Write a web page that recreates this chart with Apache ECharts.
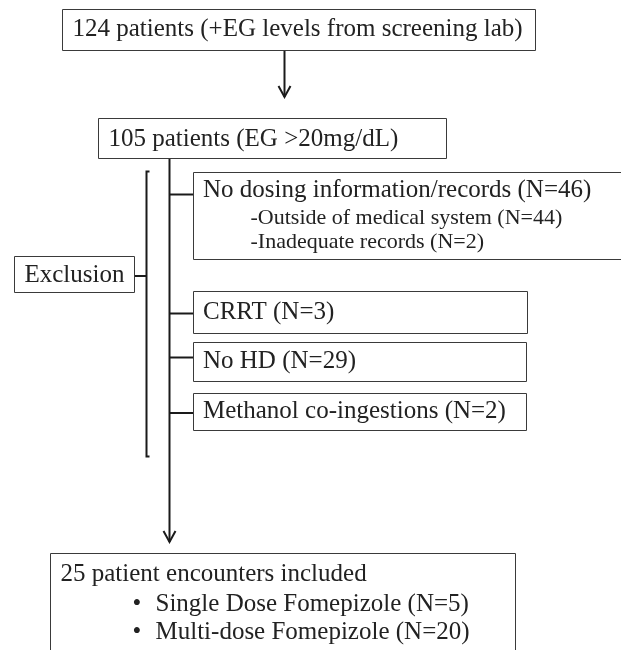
<!DOCTYPE html>
<html>
<head>
<meta charset="utf-8">
<script src="https://cdn.jsdelivr.net/npm/echarts@6/dist/echarts.min.js"></script>
<style>
  html, body { margin: 0; padding: 0; background: #fff; }
  #chart { width: 621px; height: 650px; }
</style>
</head>
<body>
<div id="chart"></div>
<script>
// flow stages and counts
const stageLabels = ['124 patients (+EG levels from screening lab)', '105 patients (EG >20mg/dL)'];
const exclusionTitle = 'Exclusion';
const exclusionReasons = ['No dosing information/records', 'CRRT', 'No HD', 'Methanol co-ingestions'];
const exclusionCounts = [46, 3, 29, 2];
const dosingSubReasons = ['Outside of medical system', 'Inadequate records'];
const dosingSubCounts = [44, 2];
const includedTitle = '25 patient encounters included';
const includedGroups = ['Single Dose Fomepizole', 'Multi-dose Fomepizole'];
const includedCounts = [5, 20];

// layout (px)
const stageBoxes = [[62, 9, 473, 41], [98, 118, 348, 40]];
const reasonBoxes = [[193, 172, 440, 87], [193, 291, 334, 42], [193, 342, 333, 39], [193, 393, 333, 37]];
const exclBox = [14, 256, 120, 36];
const finalBox = [50, 553, 465, 110];
const trunkX = 169.5;
const bracketX = 146.5;

const FONT = '"Liberation Serif", "Times New Roman", serif';
const INK = '#222';
const EDGE = '#3a3a3a';

function box(b) {
  return {
    type: 'rect',
    shape: { x: b[0] + 0.5, y: b[1] + 0.5, width: b[2], height: b[3] },
    style: { fill: '#fff', stroke: EDGE, lineWidth: 1 }
  };
}
function poly(points, lw) {
  return {
    type: 'polyline',
    shape: { points: points },
    style: { fill: null, stroke: '#1a1a1a', lineWidth: lw || 2 }
  };
}
// y is the text baseline
function label(str, x, baseline, size) {
  return {
    type: 'text',
    x: x,
    y: baseline - 0.3 * size,
    style: {
      text: str,
      font: size + 'px ' + FONT,
      fill: INK,
      align: 'left',
      verticalAlign: 'middle'
    }
  };
}
function arrowHead(x, tipY) {
  return poly([[x - 6, tipY - 11], [x, tipY], [x + 6, tipY - 11]], 2);
}

const els = [];

// top arrow
els.push(poly([[284.5, 50], [284.5, 97]], 2));
els.push(arrowHead(284.5, 97));

// trunk down to the included box
els.push(poly([[trunkX, 158], [trunkX, 542]], 2));
els.push(arrowHead(trunkX, 542));

// branches
const branchY = [194.5, 313.5, 357.5, 413];
branchY.forEach(function (y) {
  els.push(poly([[trunkX, y], [193, y]], 2));
});

// bracket + tick to Exclusion
els.push(poly([[bracketX + 3, 171.5], [bracketX, 171.5], [bracketX, 456.5], [bracketX + 3, 456.5]], 2));
els.push(poly([[134, 276], [bracketX, 276]], 2));

stageBoxes.forEach(function (b) { els.push(box(b)); });
reasonBoxes.forEach(function (b) { els.push(box(b)); });
els.push(box(exclBox));
els.push(box(finalBox));

els.push(label(stageLabels[0], 72.5, 37, 25));
els.push(label(stageLabels[1], 108.5, 146.7, 25));

const reasonBase = [198, 319.5, 368.8, 419.3];
exclusionReasons.forEach(function (r, i) {
  els.push(label(r + ' (N=' + exclusionCounts[i] + ')', 203, reasonBase[i], 25));
});
const subBase = [224.5, 248.5];
dosingSubReasons.forEach(function (r, i) {
  els.push(label('-' + r + ' (N=' + dosingSubCounts[i] + ')', 250.5, subBase[i], 22));
});
els.push(label(exclusionTitle, 24.5, 283, 25));

els.push(label(includedTitle, 60.5, 581.5, 25));
const groupBase = [611.7, 639.5];
includedGroups.forEach(function (g, i) {
  els.push(label('\u2022', 132.5, groupBase[i], 25));
  els.push(label(g + ' (N=' + includedCounts[i] + ')', 155.5, groupBase[i], 25));
});

const chart = echarts.init(document.getElementById('chart'), null, { renderer: 'canvas' });
chart.setOption({
  backgroundColor: '#fff',
  animation: false,
  graphic: { elements: els }
});
</script>
</body>
</html>
